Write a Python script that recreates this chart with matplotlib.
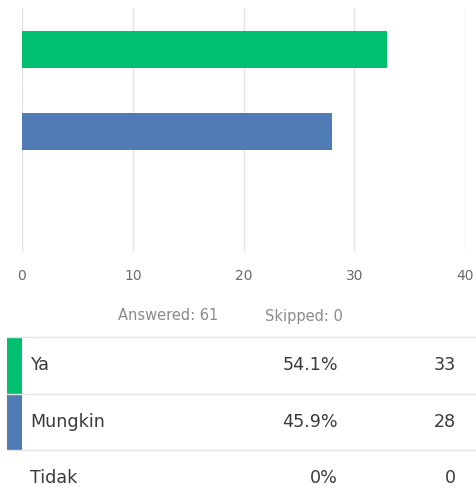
import matplotlib.pyplot as plt
from matplotlib.patches import Rectangle
from matplotlib.lines import Line2D

# Survey results
choices = ['Ya', 'Mungkin', 'Tidak']
counts = [33, 28, 0]
colors = ['#00BF6F', '#507CB6', '#F05B24']
answered = 61
skipped = 0
xticks = [0, 10, 20, 30, 40]

plt.rcParams['font.family'] = ['DejaVu Sans']

W, H = 476, 504
fig = plt.figure(figsize=(W / 100, H / 100), dpi=100)

def fx(px):
    return px / W

def fy(py):
    return 1 - py / H

# Bar chart
ax = fig.add_axes([fx(22), fy(252), fx(465) - fx(22), fy(8) - fy(252)])
ypos = list(range(len(choices)))
ax.barh(ypos, counts, height=0.45, color=colors, zorder=3)
ax.set_xlim(0, 40)
ax.set_ylim(2.47, -0.506)
ax.set_xticks(xticks)
ax.set_yticks([])
ax.grid(axis='x', color='#e3e3e3', linewidth=1, zorder=0)
for s in ax.spines.values():
    s.set_visible(False)
ax.tick_params(axis='x', length=0, pad=12, labelsize=10, labelcolor='#6a6a6a')

# Answered / skipped summary
fig.text(fx(118), fy(316), f'Answered: {answered}', fontsize=10.5, color='#8a8a8a', va='center')
fig.text(fx(265), fy(316), f'Skipped: {skipped}', fontsize=10.5, color='#8a8a8a', va='center')

# Table of responses
row_top = 337
row_h = 56.5
total = sum(counts)
for i, (name, n, c) in enumerate(zip(choices, counts, colors)):
    y0 = row_top + i * row_h
    yc = y0 + row_h / 2
    fig.add_artist(Line2D([fx(7), 1], [fy(y0), fy(y0)], color='#e3e3e3', linewidth=1))
    if n > 0:
        fig.add_artist(Rectangle((fx(7), fy(y0 + row_h)), fx(15), row_h / H,
                                 facecolor=c, edgecolor='none'))
    pct = 100 * n / total
    pct_txt = f'{pct:.1f}%' if n > 0 else '0%'
    fig.text(fx(30), fy(yc), name, fontsize=12.6, color='#3a3a3a', va='center')
    fig.text(fx(338), fy(yc), pct_txt, fontsize=12.6, color='#3a3a3a', va='center', ha='right')
    fig.text(fx(456), fy(yc), str(n), fontsize=12.6, color='#3a3a3a', va='center', ha='right')
y_end = row_top + len(choices) * row_h
fig.add_artist(Line2D([fx(7), 1], [fy(y_end), fy(y_end)], color='#e3e3e3', linewidth=1))

fig.savefig('out.png', dpi=100)
